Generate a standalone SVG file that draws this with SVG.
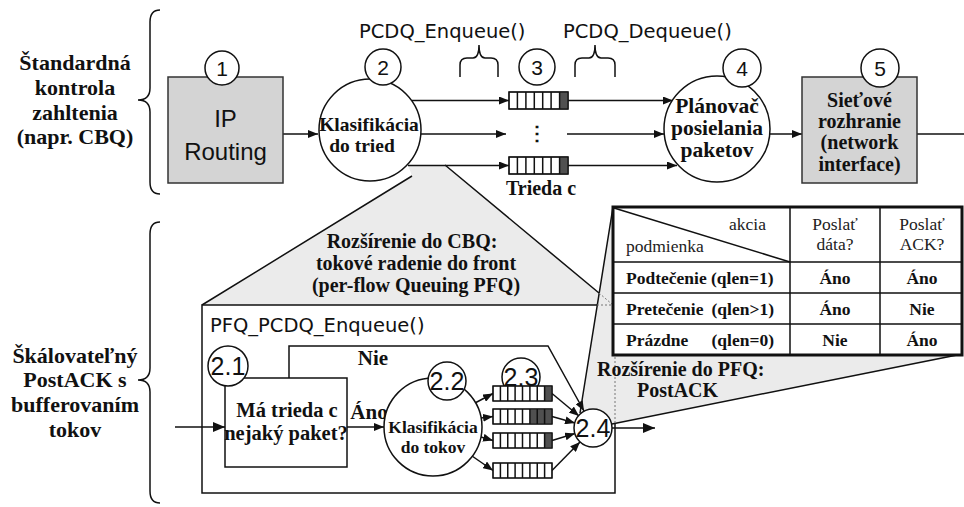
<svg xmlns="http://www.w3.org/2000/svg" width="964" height="507" viewBox="0 0 964 507">
<style>
.b{font-family:"Liberation Serif","Times New Roman",serif;font-weight:bold;fill:#111}
.r{font-family:"Liberation Serif","Times New Roman",serif;fill:#222}
.s{font-family:"Liberation Sans",Arial,sans-serif;fill:#111}
.g{font-family:"DejaVu Sans",Verdana,sans-serif;fill:#111}
.c{text-anchor:middle}
.ln{stroke:#111;stroke-width:1.5;fill:none}
.node{fill:#fff;stroke:#111;stroke-width:1.5}
.box{fill:#d4d4d4;stroke:#333;stroke-width:1.5}
.grey{fill:#ebebeb}
.q{fill:#fff;stroke:#111;stroke-width:1.2}
.qd{fill:#505050}
.dot{stroke:#777;stroke-width:1;stroke-dasharray:2 2;fill:none}
</style>
<defs>
<marker id="ah" viewBox="0 0 10 8" refX="10" refY="4" markerWidth="10" markerHeight="8" markerUnits="userSpaceOnUse" orient="auto"><path d="M0,0 L10,4 L0,8 z" fill="#111"/></marker>
<marker id="ahb" viewBox="0 0 12 10" refX="12" refY="5" markerWidth="12" markerHeight="10" markerUnits="userSpaceOnUse" orient="auto"><path d="M0,0 L12,5 L0,10 z" fill="#111"/></marker>
</defs>
<rect width="964" height="507" fill="#fff"/>

<!-- side labels and braces -->
<g id="label-top">
<text class="b c" font-size="22" x="75" y="70">Štandardná</text>
<text class="b c" font-size="22" x="75" y="95">kontrola</text>
<text class="b c" font-size="22" x="75" y="120">zahltenia</text>
<text class="b c" font-size="22" x="75" y="144">(napr. CBQ)</text>
<path class="ln" d="M160,10 Q150,10 150,22 L150,88 Q150,100 138,100 Q150,100 150,112 L150,182 Q150,194 160,194"/>
</g>
<g id="label-bottom">
<text class="b c" font-size="22" x="75" y="363">Škálovateľný</text>
<text class="b c" font-size="22" x="75" y="387">PostACK s</text>
<text class="b c" font-size="22" x="75" y="412">bufferovaním</text>
<text class="b c" font-size="22" x="75" y="437">tokov</text>
<path class="ln" d="M160,222 Q150,222 150,234 L150,368 Q150,380 138,380 Q150,380 150,392 L150,491 Q150,503 160,503"/>
</g>

<!-- zoom projection 1 -->
<g id="ext-cbq">
<polygon class="grey" points="202,305 412,176 408,165 445,165 613,305"/>
<path class="ln" d="M412,176 L202,305 M445,165 L599,293"/>
<text class="b c" font-size="20" x="412" y="248">Rozšírenie do CBQ:</text>
<text class="b c" font-size="20" x="416" y="270">tokové radenie do front</text>
<text class="b c" font-size="20" x="416" y="292">(per-flow Queuing PFQ)</text>
</g>

<!-- PFQ box -->
<g id="pfq-box">
<rect x="202" y="305" width="413" height="188" fill="#fff" stroke="#111" stroke-width="1.5"/>
<text class="g" font-size="19.5" x="210" y="332">PFQ_PCDQ_Enqueue()</text>
</g>

<!-- zoom projection 2 -->
<g id="ext-pfq">
<polygon class="grey" points="580,413 613,207 962,207 962,355 612,424"/>
<path class="ln" d="M580,413 L613,207 M612,424 L962,354"/>
<path class="dot" d="M615,305 L615,424 M597,305 L615,305 M599,293 L613,305"/>
<text class="b" font-size="20" x="597" y="376">Rozšírenie do PFQ:</text>
<text class="b" font-size="20" x="637" y="397">PostACK</text>
</g>

<!-- table -->
<g id="table">
<rect x="613" y="207" width="349" height="148" fill="#fff" stroke="#111" stroke-width="3"/>
<path class="ln" d="M613,262 H962 M613,293 H962 M613,324 H962 M790,207 V355 M880,207 V355"/>
<path class="ln" stroke-width="1.2" d="M614,208 L790,262"/>
<text class="r" font-size="17.5" x="729" y="230">akcia</text>
<text class="r" font-size="17.5" x="626" y="252">podmienka</text>
<text class="r c" font-size="17.5" x="835" y="230">Poslať</text>
<text class="r c" font-size="17.5" x="835" y="250">dáta?</text>
<text class="r c" font-size="17.5" x="922" y="230">Poslať</text>
<text class="r c" font-size="17.5" x="922" y="250">ACK?</text>
<text class="b" font-size="17.5" x="626" y="284">Podtečenie (qlen=1)</text>
<text class="b" font-size="17.5" x="626" y="315">Pretečenie</text>
<text class="b" font-size="17.5" x="774" y="315" text-anchor="end">(qlen&gt;1)</text>
<text class="b" font-size="17.5" x="626" y="346">Prázdne</text>
<text class="b" font-size="17.5" x="774" y="346" text-anchor="end">(qlen=0)</text>
<text class="b c" font-size="17.5" x="835" y="284">Áno</text>
<text class="b c" font-size="17.5" x="922" y="284">Áno</text>
<text class="b c" font-size="17.5" x="835" y="315">Áno</text>
<text class="b c" font-size="17.5" x="922" y="315">Nie</text>
<text class="b c" font-size="17.5" x="835" y="346">Nie</text>
<text class="b c" font-size="17.5" x="922" y="346">Áno</text>
</g>

<!-- function labels -->
<g id="fn-labels">
<text class="g" font-size="19.5" x="359" y="38">PCDQ_Enqueue()</text>
<text class="g" font-size="19.5" x="563" y="38">PCDQ_Dequeue()</text>
<path class="ln" d="M460,77 L460,65 Q460,58 467,58 L473,58 Q479,58 479,45 Q479,58 485,58 L491,58 Q498,58 498,65 L498,77"/>
<path class="ln" d="M575,77 L575,65 Q575,58 582,58 L589,58 Q595,58 595,45 Q595,58 601,58 L608,58 Q615,58 615,65 L615,77"/>
</g>

<!-- connectors -->
<g id="connectors">
<path class="ln" marker-end="url(#ah)" d="M283,134 L318,134"/>
<path class="ln" marker-end="url(#ah)" d="M412,100.5 L509,100.5"/>
<path class="ln" marker-end="url(#ah)" d="M421,134 L506,134"/>
<path class="ln" marker-end="url(#ah)" d="M408,165.5 L509,165.5"/>
<path class="ln" marker-end="url(#ah)" d="M568,100.5 L673,100.5"/>
<path class="ln" marker-end="url(#ah)" d="M567,134 L664,134"/>
<path class="ln" marker-end="url(#ah)" d="M568,165.5 L677,165.5"/>
<path class="ln" marker-end="url(#ah)" d="M770,134 L802,134"/>
<path class="ln" d="M917,134 L964,134"/>
<path class="ln" stroke-width="3" marker-end="url(#ahb)" d="M175,427 L225,427"/>
<path class="ln" marker-end="url(#ah)" d="M347,427 L384,427"/>
<path class="ln" marker-end="url(#ah)" d="M289,378 L289,346 L548,346 L584,411"/>
<path class="ln" marker-end="url(#ah)" d="M475,403 L493,393.5"/>
<path class="ln" marker-end="url(#ah)" d="M481,418 L493,416.5"/>
<path class="ln" marker-end="url(#ah)" d="M481,437 L493,440.5"/>
<path class="ln" marker-end="url(#ah)" d="M472,456 L493,470.5"/>
<path class="ln" marker-end="url(#ah)" d="M552,393.5 L579,416"/>
<path class="ln" marker-end="url(#ah)" d="M552,416.5 L575,423"/>
<path class="ln" marker-end="url(#ah)" d="M552,440.5 L575,433.5"/>
<path class="ln" marker-end="url(#ah)" d="M552,470.5 L580,442"/>
<path class="ln" stroke-width="2" marker-end="url(#ahb)" d="M612,428 L655,428"/>
<text class="b c" font-size="21" x="373" y="365">Nie</text>
<text class="b c" font-size="21" x="369" y="419">Áno</text>
</g>

<!-- top row nodes -->
<g id="n1">
<rect class="box" x="168" y="77" width="115" height="106"/>
<text class="s c" font-size="24" x="225.5" y="127">IP</text>
<text class="s c" font-size="24" x="225.5" y="160">Routing</text>
<circle class="node" cx="222" cy="68" r="17"/>
<text class="s c" font-size="21" x="222" y="75.5">1</text>
</g>
<g id="n2">
<circle class="node" cx="370" cy="130" r="51"/>
<text class="b c" font-size="19.5" x="369" y="131">Klasifikácia</text>
<text class="b c" font-size="19.5" x="362" y="152">do tried</text>
<circle class="node" cx="383" cy="67" r="18"/>
<text class="s c" font-size="21" x="383" y="74.5">2</text>
</g>
<g id="n3">
<circle class="node" cx="537" cy="67" r="18"/>
<text class="s c" font-size="21" x="537" y="74.5">3</text>
<rect class="q" x="509" y="92" width="59" height="17"/>
<rect class="qd" x="559.6" y="92" width="8.4" height="17"/>
<path class="ln" stroke-width="1" d="M517.4,92 V109 M525.9,92 V109 M534.3,92 V109 M542.7,92 V109 M551.1,92 V109 M559.6,92 V109"/>
<rect x="509" y="92" width="59" height="17" fill="none" stroke="#111" stroke-width="1.3"/>
<text class="b c" font-size="20" x="537" y="140">⋮</text>
<rect class="q" x="509" y="157" width="59" height="17"/>
<rect class="qd" x="559.6" y="157" width="8.4" height="17"/>
<path class="ln" stroke-width="1" d="M517.4,157 V174 M525.9,157 V174 M534.3,157 V174 M542.7,157 V174 M551.1,157 V174 M559.6,157 V174"/>
<rect x="509" y="157" width="59" height="17" fill="none" stroke="#111" stroke-width="1.3"/>
<text class="b c" font-size="20" x="541" y="195">Trieda c</text>
</g>
<g id="n4">
<circle class="node" cx="717" cy="129" r="53"/>
<text class="b c" font-size="21.5" x="717" y="113">Plánovač</text>
<text class="b c" font-size="21.5" x="717" y="135">posielania</text>
<text class="b c" font-size="21.5" x="717" y="157">paketov</text>
<circle class="node" cx="742" cy="68" r="19"/>
<text class="s c" font-size="21" x="742" y="75.5">4</text>
</g>
<g id="n5">
<rect class="box" x="802" y="77" width="115" height="106"/>
<text class="b c" font-size="20" x="859.5" y="107">Sieťové</text>
<text class="b c" font-size="20" x="859.5" y="128">rozhranie</text>
<text class="b c" font-size="20" x="859.5" y="149">(network</text>
<text class="b c" font-size="20" x="859.5" y="171">interface)</text>
<circle class="node" cx="880" cy="68" r="19"/>
<text class="s c" font-size="21" x="880" y="75.5">5</text>
</g>

<!-- PFQ nodes -->
<g id="n2-1">
<rect x="225" y="378" width="122" height="89" fill="#fff" stroke="#111" stroke-width="1.5"/>
<text class="b c" font-size="20.5" x="287" y="417">Má trieda c</text>
<text class="b c" font-size="20.5" x="286" y="440">nejaký paket?</text>
<circle class="node" cx="228" cy="366" r="20"/>
<text class="s c" font-size="25" x="228" y="375">2.1</text>
</g>
<g id="n2-2">
<circle class="node" cx="433" cy="427" r="49"/>
<text class="b c" font-size="17.5" x="433" y="433">Klasifikácia</text>
<text class="b c" font-size="17.5" x="433" y="453">do tokov</text>
<circle class="node" cx="447" cy="381" r="19"/>
<text class="s c" font-size="25" x="447" y="390">2.2</text>
</g>
<g id="n2-3">
<circle class="node" cx="521" cy="377" r="19"/>
<rect class="q" x="493" y="386" width="59" height="15"/>
<rect class="qd" x="544.6" y="386" width="7.4" height="15"/>
<rect class="q" x="493" y="409" width="59" height="15"/>
<rect class="qd" x="529.9" y="409" width="22.1" height="15"/>
<rect class="q" x="493" y="433" width="59" height="15"/>
<rect class="qd" x="544.6" y="433" width="7.4" height="15"/>
<rect class="q" x="493" y="463" width="59" height="15"/>
<path class="ln" stroke-width="1" d="M500.4,386 V401 M507.75,386 V401 M515.1,386 V401 M522.5,386 V401 M529.9,386 V401 M537.25,386 V401 M544.6,386 V401
M500.4,409 V424 M507.75,409 V424 M515.1,409 V424 M522.5,409 V424 M529.9,409 V424 M537.25,409 V424 M544.6,409 V424
M500.4,433 V448 M507.75,433 V448 M515.1,433 V448 M522.5,433 V448 M529.9,433 V448 M537.25,433 V448 M544.6,433 V448
M500.4,463 V478 M507.75,463 V478 M515.1,463 V478 M522.5,463 V478 M529.9,463 V478 M537.25,463 V478 M544.6,463 V478"/>
<path d="M493,386 h59 v15 h-59 z M493,409 h59 v15 h-59 z M493,433 h59 v15 h-59 z M493,463 h59 v15 h-59 z" fill="none" stroke="#111" stroke-width="1.2"/>
<text class="s c" font-size="25" x="521" y="386">2.3</text>
</g>
<g id="n2-4">
<circle class="node" cx="593" cy="428" r="19"/>
<text class="s c" font-size="25" x="593" y="437">2.4</text>
</g>
</svg>
